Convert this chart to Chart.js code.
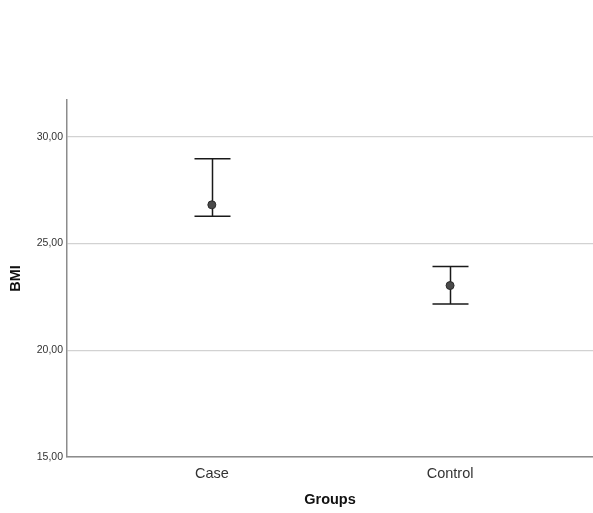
<!DOCTYPE html>
<html>
<head>
<meta charset="utf-8">
<script src="https://cdn.jsdelivr.net/npm/chart.js@4/dist/chart.umd.min.js"></script>
<style>
  html, body { margin: 0; padding: 0; background: #ffffff; }
  #wrap { width: 593px; height: 513px; }
</style>
</head>
<body>
<div id="wrap"><canvas id="c" width="593" height="513"></canvas></div>
<script>
// Mean BMI per group with error bar limits
const groups = ['Case', 'Control'];
const means = [26.81, 23.03];
const upper = [28.97, 23.92];
const lower = [26.28, 22.17];
const yTicks = [15, 20, 25, 30];

const FONT = '"Liberation Sans", Arial, sans-serif';

// Whiskers with caps, drawn from the data arrays through the chart scales
const errorBars = {
  id: 'errorBars',
  beforeDatasetsDraw(chart) {
    const { ctx, scales: { x, y } } = chart;
    ctx.save();
    ctx.strokeStyle = '#1a1a1a';
    ctx.lineWidth = 1.5;
    const capHalf = 18;
    groups.forEach((g, i) => {
      const px = Math.round(x.getPixelForValue(i)) + 0.5;
      const top = y.getPixelForValue(upper[i]);
      const bot = y.getPixelForValue(lower[i]);
      ctx.beginPath();
      ctx.moveTo(px, top); ctx.lineTo(px, bot);
      ctx.moveTo(px - capHalf, top); ctx.lineTo(px + capHalf, top);
      ctx.moveTo(px - capHalf, bot); ctx.lineTo(px + capHalf, bot);
      ctx.stroke();
    });
    ctx.restore();
  }
};

new Chart(document.getElementById('c'), {
  type: 'scatter',
  data: {
    datasets: [{
      label: 'BMI',
      data: groups.map((g, i) => ({ x: i, y: means[i] })),
      pointRadius: 4,
      pointBackgroundColor: '#4a4a4a',
      pointBorderColor: '#2a2a2a',
      pointBorderWidth: 1
    }]
  },
  options: {
    responsive: false,
    animation: false,
    layout: { autoPadding: false, padding: { top: 100, right: 0, left: 0, bottom: 0 } },
    plugins: { legend: { display: false }, tooltip: { enabled: false } },
    scales: {
      x: {
        type: 'linear',
        min: -0.608,
        max: 1.60,
        afterBuildTicks(s) { s.ticks = groups.map((g, i) => ({ value: i })); },
        afterFit(s) { s.height = 56; s.paddingLeft = 0; s.paddingRight = 0; },
        grid: { display: false },
        border: { display: true, color: '#8c8c8c', width: 1.5 },
        ticks: {
          callback: (v) => groups[v],
          color: '#333333',
          font: { family: FONT, size: 14.5 },
          padding: 0,
          maxRotation: 0
        },
        title: {
          display: true,
          text: 'Groups',
          color: '#111111',
          font: { family: FONT, size: 14.5, weight: 'bold' },
          padding: { top: 0, bottom: 4 }
        }
      },
      y: {
        min: 15,
        max: 31.72,
        afterBuildTicks(s) { s.ticks = yTicks.map(v => ({ value: v })); },
        afterFit(s) { s.width = 67; },
        grid: { color: '#d2d2d2', lineWidth: 1.2, drawTicks: false },
        border: { display: true, color: '#8c8c8c', width: 1.5 },
        ticks: {
          callback: (v) => v.toFixed(2).replace('.', ','),
          color: '#333333',
          font: { family: FONT, size: 10.5 },
          padding: 4
        },
        title: {
          display: true,
          text: 'BMI',
          color: '#111111',
          font: { family: FONT, size: 14.5, weight: 'bold' },
          padding: { top: 7, bottom: 0 }
        }
      }
    }
  },
  plugins: [errorBars]
});
</script>
</body>
</html>
